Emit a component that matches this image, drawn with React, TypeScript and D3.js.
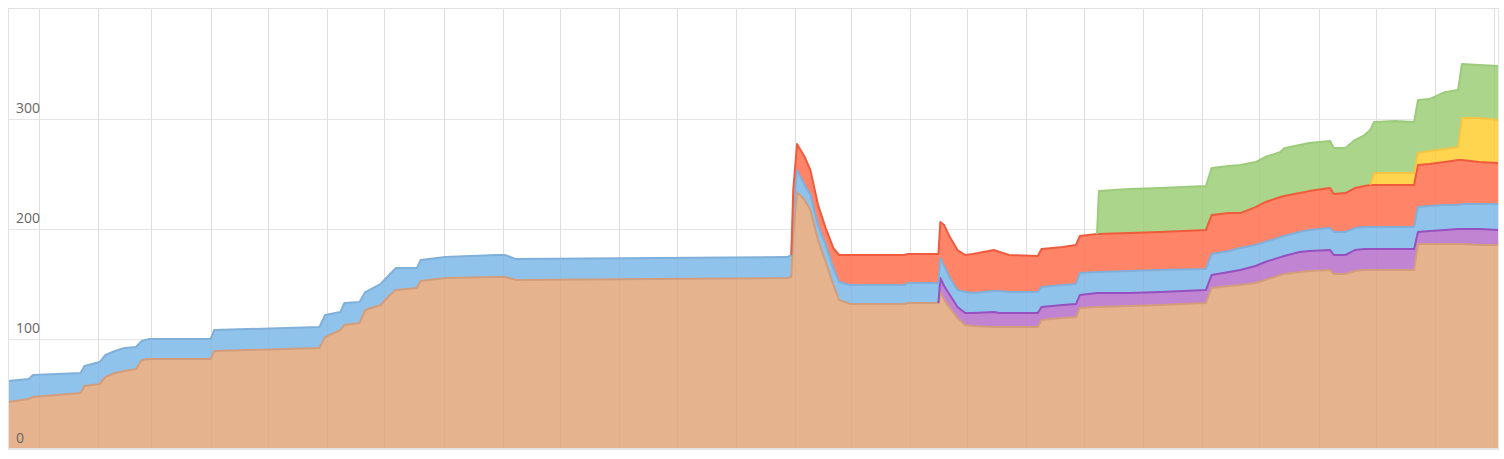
import React from 'react';
import * as d3 from 'd3';

const dates = [
  '2014-12-16','2014-12-27','2014-12-29','2015-01-23','2015-01-25','2015-02-02','2015-02-05','2015-02-10','2015-02-15','2015-02-21',
  '2015-02-24','2015-02-28','2015-04-01','2015-04-03','2015-05-28','2015-05-31','2015-06-08','2015-06-10','2015-06-18','2015-06-21',
  '2015-06-29','2015-07-04','2015-07-07','2015-07-18','2015-07-20','2015-08-02','2015-08-28','2015-09-02','2015-09-08','2016-01-28',
  '2016-01-30','2016-01-31','2016-02-02','2016-02-06','2016-02-09','2016-02-13','2016-02-17','2016-02-21','2016-02-24','2016-03-01',
  '2016-03-29','2016-03-31','2016-04-16','2016-04-17','2016-04-19','2016-04-22','2016-04-26','2016-04-30','2016-05-04','2016-05-15',
  '2016-05-18','2016-05-23','2016-06-07','2016-06-09','2016-06-20','2016-06-27','2016-06-29','2016-07-08','2016-07-09','2016-07-25',
  '2016-08-10','2016-09-03','2016-09-06','2016-09-15','2016-09-21','2016-09-29','2016-10-04','2016-10-12','2016-10-14','2016-10-22',
  '2016-10-27','2016-11-07','2016-11-09','2016-11-15','2016-11-20','2016-11-25','2016-11-28','2016-11-30','2016-12-11','2016-12-21',
  '2016-12-23','2016-12-29','2017-01-06','2017-01-13','2017-01-15','2017-01-24','2017-02-03',
];

const orange = [
  42.7,45.5,47.3,50.9,57.3,59.1,65.5,69.1,70.9,72.7,
  80.9,81.8,81.8,89.1,91.8,101.8,108.2,112.7,114.5,126.4,
  130.9,140.0,144.5,146.4,152.7,155.5,156.4,156.4,153.6,155.5,
  156.4,194.5,233.6,226.4,217.3,190.0,170.0,149.1,135.5,131.8,
  131.8,132.7,132.7,142.7,135.5,128.2,119.1,112.7,111.8,110.9,
  110.9,110.9,110.9,117.3,119.1,120.0,128.2,129.1,129.1,130.0,
  130.9,132.7,146.4,148.2,149.1,150.9,153.6,158.2,159.1,160.9,
  161.8,162.7,159.1,159.1,161.8,162.7,162.7,162.7,162.7,162.7,
  186.4,186.4,186.4,186.4,186.4,185.5,185.5,
];

const purple = [
  null,null,null,null,null,null,null,null,null,null,
  null,null,null,null,null,null,null,null,null,null,
  null,null,null,null,null,null,null,null,null,null,
  null,null,null,null,null,null,null,null,null,null,
  null,null,0,12.8,12.7,11.8,10.0,10.9,11.8,13.6,
  12.7,12.7,12.7,11.8,11.8,11.8,11.8,12.7,12.7,11.8,
  11.8,11.8,11.8,12.7,13.6,15.5,16.4,16.3,16.4,18.2,
  18.2,18.2,17.3,17.3,19.1,19.1,19.1,19.1,19.1,19.1,
  10.9,11.8,12.7,13.6,13.6,14.5,13.6,
];

const blue = [
  19.1,18.1,20.0,18.2,18.2,20.0,20.0,20.0,20.9,20.0,
  17.3,18.2,18.2,19.1,19.1,20.0,16.3,20.0,19.1,16.3,
  19.1,19.1,20.0,18.1,19.1,19.0,20.0,20.0,19.1,19.0,
  20.0,21.0,20.0,13.6,13.6,13.6,15.5,15.4,16.3,17.3,
  17.3,18.2,18.2,18.1,18.2,15.5,15.4,19.1,18.2,19.1,
  20.0,19.1,19.1,18.2,18.2,18.2,20.0,19.1,19.1,20.0,
  20.0,19.1,19.1,19.1,20.0,19.1,18.2,18.2,18.1,18.2,
  19.1,20.0,20.9,20.9,20.0,20.0,20.0,20.0,20.0,20.0,
  22.7,22.7,22.7,21.8,22.7,22.7,23.6,
];

const red = [
  null,null,null,null,null,null,null,null,null,null,
  null,null,null,null,null,null,null,null,null,null,
  null,null,null,null,null,null,null,null,null,null,
  0,20.0,23.7,25.5,22.7,18.2,15.4,18.2,24.6,27.3,
  27.3,26.4,26.4,32.8,37.2,37.2,36.4,33.7,35.5,37.3,
  35.5,33.7,32.8,34.5,34.5,35.5,33.6,34.6,34.6,34.6,
  34.6,35.5,35.4,34.5,31.8,34.5,36.3,36.4,36.4,35.4,
  35.4,36.4,34.5,35.4,36.4,37.3,38.2,38.2,38.2,38.2,
  38.2,38.2,39.1,40.9,40.0,38.2,37.3,
];

const yellow = [
  null,null,null,null,null,null,null,null,null,null,
  null,null,null,null,null,null,null,null,null,null,
  null,null,null,null,null,null,null,null,null,null,
  null,null,null,null,null,null,null,null,null,null,
  null,null,null,null,null,null,null,null,null,null,
  null,null,null,null,null,null,null,null,null,null,
  null,null,null,null,null,null,null,null,null,null,
  null,null,null,null,null,null,0,10.9,10.9,10.9,
  10.9,11.8,11.8,11.8,38.2,40.0,39.1,
];

const green = [
  null,null,null,null,null,null,null,null,null,null,
  null,null,null,null,null,null,null,null,null,null,
  null,null,null,null,null,null,null,null,null,null,
  null,null,null,null,null,null,null,null,null,null,
  null,null,null,null,null,null,null,null,null,null,
  null,null,null,null,null,null,null,0,39.0,40.0,
  40.0,40.0,42.8,42.8,43.7,40.9,41.0,40.9,43.6,43.7,
  43.7,42.7,41.8,40.9,43.6,46.4,50.0,46.4,47.3,46.4,
  48.2,47.3,51.8,51.9,49.1,48.2,49.1,
];

const yTicks = [0, 100, 200, 300];

const seriesKeys = ['orange', 'purple', 'blue', 'red', 'yellow', 'green'];
const seriesData: Record<string, (number | null)[]> = { orange, purple, blue, red, yellow, green };
const fills: Record<string, string> = {
  orange: '#e5b48e',
  purple: '#c084d2',
  blue: '#90c3eb',
  red: '#ff8468',
  yellow: '#ffd54f',
  green: '#aad58a',
};
const strokes: Record<string, string> = {
  orange: '#d39d7c',
  purple: '#9650c0',
  blue: '#80b0da',
  red: '#ef5b3c',
  yellow: '#f6c445',
  green: '#9dcb7c',
};

const W = 1504;
const H = 459;
const L = 8, T = 8, R = 1499, B = 449;

export default function App() {
  const parse = d3.timeParse('%Y-%m-%d');
  const xs = dates.map((d) => parse(d) as Date);
  const x = d3.scaleTime().domain([new Date(2014, 11, 16), new Date(2017, 1, 3, 10)]).range([L, R]);
  const y = d3.scaleLinear().domain([0, 401]).range([B, T]);

  const rows = dates.map((_, i) => {
    const r: any = { date: xs[i] };
    seriesKeys.forEach((k) => (r[k] = seriesData[k][i] ?? 0));
    return r;
  });
  const stacked = d3.stack<any>().keys(seriesKeys)(rows);

  const months = x.ticks(d3.timeMonth.every(1) as any);

  return (
    <svg width={W} height={H} style={{ position: 'absolute', left: 0, top: 0, display: 'block' }}>
      <defs>
        <clipPath id="plotclip">
          <rect x={L} y={T} width={R - L} height={B - T} />
        </clipPath>
      </defs>
      <rect x={0} y={0} width={W} height={H} fill="#ffffff" />
      {months.map((m, i) => (
        <line key={'v' + i} x1={Math.round(x(m)) + 0.5} x2={Math.round(x(m)) + 0.5} y1={T} y2={B} stroke="#e6e6e6" strokeWidth={1} />
      ))}
      {yTicks.map((t) => (
        <line key={'h' + t} x1={L} x2={R} y1={Math.round(y(t)) + 0.5} y2={Math.round(y(t)) + 0.5} stroke="#e6e6e6" strokeWidth={1} />
      ))}
      <g clipPath="url(#plotclip)">
        {stacked.map((s) => {
          const key = s.key;
          const defined = (_: any, i: number) => seriesData[key][i] != null;
          const area = d3
            .area<any>()
            .defined(defined)
            .x((d) => x(d.data.date))
            .y0((d) => y(d[0]))
            .y1((d) => y(d[1]));
          return <path key={'a' + key} d={area(s as any) || ''} fill={fills[key]} stroke="none" />;
        })}
        {months.map((m, i) => (
          <line key={'vo' + i} x1={Math.round(x(m)) + 0.5} x2={Math.round(x(m)) + 0.5} y1={T} y2={B} stroke="rgba(170,120,80,0.08)" strokeWidth={1} />
        ))}
        {stacked.map((s) => {
          const key = s.key;
          const defined = (_: any, i: number) => seriesData[key][i] != null;
          const line = d3
            .line<any>()
            .defined(defined)
            .x((d) => x(d.data.date))
            .y((d) => y(d[1]));
          return (
            <path key={'l' + key} d={line(s as any) || ''} fill="none" stroke={strokes[key]} strokeWidth={2} strokeLinejoin="round" />
          );
        })}
      </g>
      <rect x={L + 0.5} y={T + 0.5} width={R - L - 1} height={B - T - 1} fill="none" stroke="#e2e2e2" strokeWidth={1} />
      {yTicks.map((t) => (
        <text key={'t' + t} x={16} y={y(t) - 6} fontFamily="'Open Sans', sans-serif" fontSize={14} fill="#666">
          {String(t)}
        </text>
      ))}
    </svg>
  );
}
